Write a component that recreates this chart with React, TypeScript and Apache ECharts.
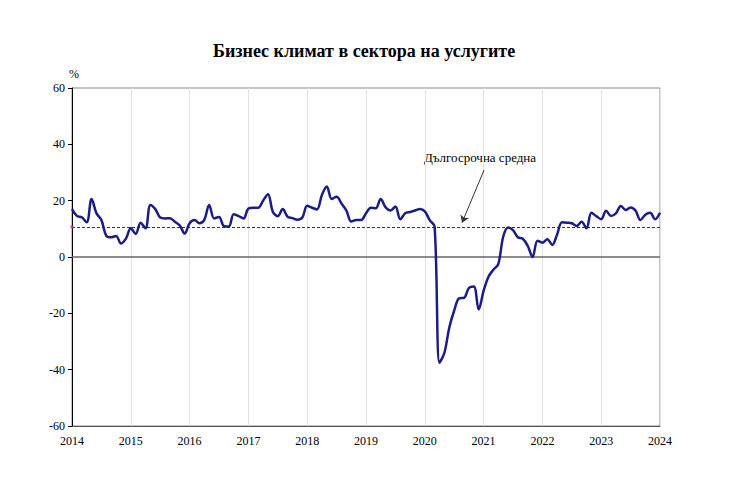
import React, { useEffect, useRef } from 'react'
import * as echarts from 'echarts'

// месечни стойности, януари 2014 - януари 2024
const VALUES: number[] = [
  17, 14.6, 14.1, 12.3, 20.6, 15.5, 13.1, 7.5, 7, 7.5, 4.8, 6.5,
  10.2, 8.2, 12.2, 10.2, 18.5, 17, 14, 13.7, 13.8, 12.5, 11.2, 8.3,
  12, 13.1, 12, 13.2, 18.5, 13.7, 14.2, 11, 10.8, 15.2, 14.5, 13.7,
  17.2, 17.5, 17.5, 20, 22.3, 16, 14.5, 17, 14.3, 13.8, 13.2, 14,
  18.2, 17.5, 16.9, 22, 25, 20.6, 21.4, 19, 16.5, 12.6, 13.1, 13.1,
  15.5, 17.5, 17.3, 20.6, 17.6, 16.5, 17.9, 13.4, 15.5, 16, 16.5, 17,
  16.2, 13.1, 10.8, -37.5, -34, -25, -19, -14.7, -14.5, -11, -10.5, -18.6,
  -12, -7, -4.5, -2.5, 7.2, 10.5, 9.5, 7, 6.5, 4, 0, 5.8,
  5.1, 6.3, 4.3, 8, 12.3, 12.2, 12, 11, 12.5, 10.2, 15.7, 14.5,
  13.4, 16.4, 14.6, 15.5, 18.1, 16.7, 17.6, 16.5, 13.1, 15, 15.7, 13.4,
  15.7,
]

const YEARS: string[] = [
  '2014', '2015', '2016', '2017', '2018', '2019',
  '2020', '2021', '2022', '2023', '2024',
]

const LONG_TERM_AVG = 10.7

const FONT = '"Liberation Serif", "Times New Roman", serif'

const App: React.FC = () => {
  const chartRef = useRef<HTMLDivElement>(null)

  useEffect(() => {
    document.body.style.margin = '0'
    if (!chartRef.current) return
    const chart = echarts.init(chartRef.current, null, { renderer: 'svg' })

    const lineData = VALUES.map((v, i) => [i, v])

    chart.setOption({
      animation: false,
      backgroundColor: '#fff',
      title: {
        text: 'Бизнес климат в сектора на услугите',
        left: 208,
        top: 37,
        textStyle: {
          fontFamily: FONT,
          fontWeight: 'bold',
          fontSize: 18,
          color: '#000',
        },
      },
      grid: {
        left: 72,
        right: 80,
        top: 88,
        bottom: 64,
        show: true,
        borderColor: '#8a8a8a',
        borderWidth: 1,
      },
      xAxis: {
        type: 'value',
        min: 0,
        max: 120,
        interval: 12,
        axisLine: { onZero: false, lineStyle: { color: '#555', width: 1 } },
        axisTick: { show: false },
        axisLabel: {
          color: '#000',
          fontFamily: FONT,
          fontSize: 12,
          margin: 9,
          formatter: (v: number) => YEARS[Math.round(v / 12)] ?? '',
        },
        splitLine: { show: true, lineStyle: { color: '#e2e2e2', width: 1 } },
      },
      yAxis: {
        type: 'value',
        min: -60,
        max: 60,
        interval: 20,
        name: '%',
        nameGap: 8,
        nameTextStyle: { color: '#000', fontFamily: FONT, fontSize: 12, align: 'left', padding: [0, 0, 0, -3] },
        axisLine: { show: true, lineStyle: { color: '#000', width: 1 } },
        axisTick: { show: true, length: 4, lineStyle: { color: '#000' } },
        axisLabel: { color: '#000', fontFamily: FONT, fontSize: 12, margin: 7 },
        splitLine: { show: false },
      },
      series: [
        {
          type: 'line',
          data: lineData,
          smooth: 0.35,
          symbol: 'none',
          lineStyle: { color: '#1c1c85', width: 2.5 },
          z: 5,
          markLine: {
            silent: true,
            symbol: 'none',
            label: { show: false },
            data: [
              { yAxis: 0, lineStyle: { color: '#666', width: 1.5, type: 'solid' } },
              { yAxis: LONG_TERM_AVG, lineStyle: { color: '#333', width: 1, type: [3, 2] } },
              [
                {
                  coord: [84.1, 30.9],
                  symbol: 'none',
                  lineStyle: { color: '#333', width: 1, type: 'solid' },
                },
                { coord: [79.6, 12.2], symbol: 'arrow', symbolSize: 7 },
              ],
            ],
          },
        },
        {
          type: 'scatter',
          data: [[0, LONG_TERM_AVG]],
          symbol: 'rect',
          symbolSize: 3,
          itemStyle: { color: '#e0208c' },
          z: 6,
        },
      ],
      graphic: [
        {
          type: 'text',
          left: 424,
          top: 151,
          style: {
            text: 'Дългосрочна средна',
            fontFamily: FONT,
            fontSize: 13,
            fill: '#000',
          },
        },
      ],
    })

    return () => {
      chart.dispose()
    }
  }, [])

  return <div ref={chartRef} style={{ width: 740, height: 490 }} />
}

export default App
